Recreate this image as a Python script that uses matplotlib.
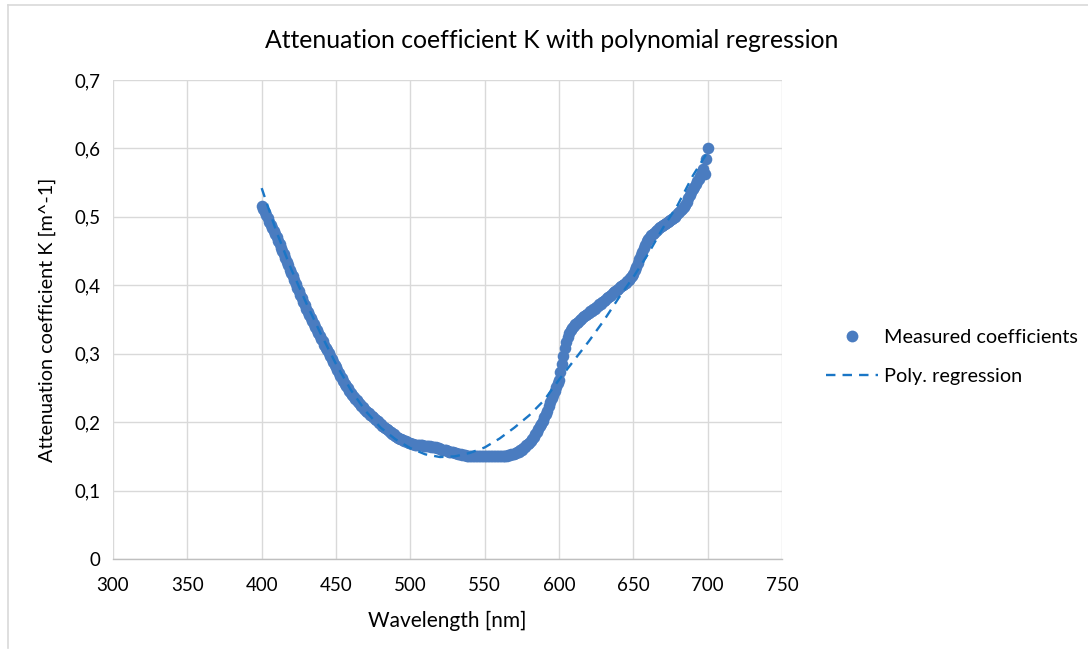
import numpy as np
import matplotlib
matplotlib.use("Agg")
import matplotlib.pyplot as plt
from matplotlib.lines import Line2D
from matplotlib.ticker import FuncFormatter, MultipleLocator

plt.rcParams['font.family'] = ['Lato', 'DejaVu Sans']

# ---- data ----
wavelength = np.arange(400, 701)  # nm, 1 nm steps
measured = [
    0.516, 0.511, 0.507, 0.502, 0.498, 0.493, 0.488, 0.484, 0.479, 0.475,
    0.470, 0.465, 0.460, 0.455, 0.450, 0.445, 0.440, 0.434, 0.429, 0.423,
    0.418, 0.413, 0.407, 0.402, 0.396, 0.391, 0.386, 0.381, 0.376, 0.371,
    0.366, 0.361, 0.357, 0.352, 0.348, 0.343, 0.339, 0.335, 0.330, 0.326,
    0.322, 0.318, 0.313, 0.309, 0.305, 0.301, 0.297, 0.292, 0.288, 0.284,
    0.280, 0.276, 0.272, 0.268, 0.264, 0.260, 0.256, 0.253, 0.250, 0.246,
    0.243, 0.240, 0.237, 0.234, 0.232, 0.229, 0.227, 0.224, 0.222, 0.219,
    0.217, 0.215, 0.213, 0.211, 0.209, 0.207, 0.205, 0.203, 0.201, 0.199,
    0.197, 0.195, 0.193, 0.191, 0.190, 0.188, 0.186, 0.185, 0.183, 0.182,
    0.180, 0.179, 0.177, 0.176, 0.175, 0.174, 0.173, 0.172, 0.171, 0.170,
    0.169, 0.168, 0.168, 0.167, 0.167, 0.166, 0.166, 0.166, 0.166, 0.165,
    0.165, 0.165, 0.165, 0.165, 0.164, 0.164, 0.163, 0.163, 0.162, 0.162,
    0.161, 0.160, 0.160, 0.159, 0.159, 0.158, 0.157, 0.157, 0.156, 0.156,
    0.155, 0.155, 0.154, 0.153, 0.153, 0.152, 0.152, 0.152, 0.151, 0.151,
    0.151, 0.151, 0.150, 0.150, 0.150, 0.150, 0.150, 0.150, 0.150, 0.150,
    0.150, 0.150, 0.150, 0.150, 0.150, 0.150, 0.150, 0.150, 0.150, 0.150,
    0.150, 0.150, 0.150, 0.150, 0.151, 0.151, 0.152, 0.152, 0.153, 0.153,
    0.154, 0.155, 0.156, 0.157, 0.159, 0.160, 0.162, 0.164, 0.166, 0.168,
    0.170, 0.173, 0.176, 0.179, 0.182, 0.186, 0.190, 0.194, 0.198, 0.202,
    0.207, 0.212, 0.217, 0.223, 0.229, 0.235, 0.240, 0.246, 0.251, 0.257,
    0.262, 0.274, 0.285, 0.297, 0.308, 0.317, 0.325, 0.330, 0.335, 0.338,
    0.340, 0.343, 0.345, 0.347, 0.349, 0.351, 0.353, 0.355, 0.357, 0.358,
    0.360, 0.362, 0.363, 0.365, 0.366, 0.368, 0.370, 0.372, 0.373, 0.375,
    0.377, 0.379, 0.381, 0.383, 0.384, 0.386, 0.388, 0.390, 0.392, 0.393,
    0.395, 0.397, 0.399, 0.401, 0.402, 0.404, 0.406, 0.408, 0.410, 0.413,
    0.417, 0.422, 0.427, 0.432, 0.438, 0.444, 0.449, 0.454, 0.459, 0.464,
    0.468, 0.471, 0.473, 0.475, 0.477, 0.479, 0.481, 0.483, 0.485, 0.487,
    0.488, 0.490, 0.491, 0.493, 0.494, 0.496, 0.497, 0.499, 0.500, 0.502,
    0.505, 0.507, 0.510, 0.512, 0.515, 0.518, 0.522, 0.527, 0.532, 0.536,
    0.540, 0.544, 0.548, 0.552, 0.555, 0.560, 0.566, 0.570, 0.562, 0.585,
    0.601,
]

poly_wavelength = [400, 410, 420, 430, 440, 450, 460, 470, 480, 490, 500,
                   510, 520, 530, 540, 550, 560, 570, 580, 590, 600,
                   610, 620, 630, 640, 650, 660, 670, 680, 690, 700]
poly_values = [0.542, 0.478, 0.423, 0.374, 0.328, 0.285, 0.247, 0.216, 0.192,
               0.175, 0.162, 0.153, 0.149, 0.150, 0.155, 0.163, 0.176, 0.192,
               0.210, 0.232, 0.262, 0.290, 0.318, 0.348, 0.381, 0.412, 0.446,
               0.484, 0.518, 0.560, 0.595]

x_ticks = [300, 350, 400, 450, 500, 550, 600, 650, 700, 750]
title = "Attenuation coefficient K with polynomial regression"
xlabel = "Wavelength [nm]"
ylabel = "Attenuation coefficient K [m^-1]"
labels = ["Measured coefficients", "Poly. regression"]

# ---- figure ----
W, H = 1088, 655
fig = plt.figure(figsize=(W / 100, H / 100), dpi=100)
ax = fig.add_axes([113 / W, 1 - 559 / H, (782 - 113) / W, (559 - 80) / H])

marker_color = "#4A7CC0"
line_color = "#1A76C6"
dash = (0, (4.0, 3.0))

ax.scatter(wavelength, measured, s=70, color=marker_color, zorder=3,
           linewidths=0)
ax.plot(poly_wavelength, poly_values, linestyle=dash,
        color=line_color, linewidth=1.7, zorder=4)

ax.set_xlim(300, 750)
ax.set_ylim(0, 0.7)
ax.set_xticks(x_ticks)
ax.yaxis.set_major_locator(MultipleLocator(0.1))
ax.yaxis.set_major_formatter(FuncFormatter(
    lambda v, p: "0" if abs(v) < 1e-9 else f"{v:.1f}".replace(".", ",")))

ax.grid(True, color="#D9D9D9", linewidth=1.0, zorder=0)
ax.set_axisbelow(True)
for side in ["top", "right", "left"]:
    ax.spines[side].set_visible(False)
ax.spines["bottom"].set_color("#BFBFBF")
ax.spines["bottom"].set_linewidth(1.0)
ax.tick_params(length=0, labelsize=13.5, colors="#000000", pad=9)
ax.tick_params(axis="x", pad=13)

fig.text(552 / W, 1 - 40 / H, title, ha="center", va="center", fontsize=17.8)
fig.text(447 / W, 1 - 621 / H, xlabel, ha="center", va="center", fontsize=15)
fig.text(47 / W, 1 - 320 / H, ylabel, ha="center", va="center", fontsize=14.3,
         rotation=90)

handles = [
    Line2D([], [], linestyle="none", marker="o", markersize=8.5,
           markerfacecolor=marker_color, markeredgewidth=0),
    Line2D([], [], linestyle=dash, color=line_color, linewidth=1.7),
]
leg = fig.legend(handles, labels, loc="center left",
                 bbox_to_anchor=(826 / W, 1 - 357 / H), frameon=False,
                 fontsize=14.3, handlelength=2.6, handletextpad=0.3,
                 labelspacing=1.1, borderaxespad=0, borderpad=0)

# chart border
fig.add_artist(Line2D([8 / W, 8 / W], [1 - 5 / H, 1 - 648 / H],
                      transform=fig.transFigure, color="#D9D9D9", linewidth=1.2))
fig.add_artist(Line2D([8 / W, 1.0], [1 - 5 / H, 1 - 5 / H],
                      transform=fig.transFigure, color="#D9D9D9", linewidth=1.2))

fig.savefig("out.png", dpi=100, facecolor="white")
